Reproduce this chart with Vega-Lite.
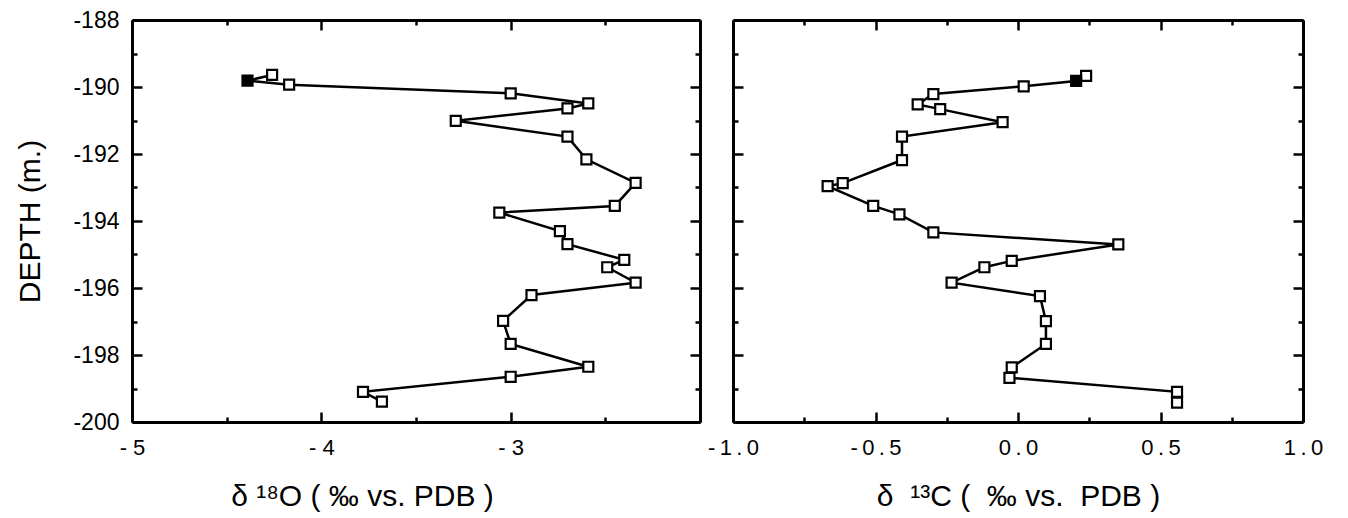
{
  "$schema": "https://vega.github.io/schema/vega-lite/v6.json",
  "background": "white",
  "padding": {"left": 15, "top": 9, "right": 5, "bottom": 5},
  "config": {
    "view": {"stroke": null},
    "font": "Liberation Sans",
    "axis": {
      "grid": false,
      "domainColor": "black",
      "domainWidth": 3,
      "tickColor": "black",
      "tickWidth": 2.5,
      "labelFont": "Liberation Sans",
      "labelFontSize": 22,
      "labelColor": "black",
      "labelFlush": false,
      "labelOverlap": false,
      "titleFont": "Liberation Sans",
      "titleFontWeight": "normal",
      "titleColor": "black"
    }
  },
  "datasets": {
    "oxygen": [
      {"d18O": -4.26, "depth": -189.64, "kind": "open"},
      {"d18O": -4.39, "depth": -189.81, "kind": "filled"},
      {"d18O": -4.17, "depth": -189.93, "kind": "open"},
      {"d18O": -3.00, "depth": -190.19, "kind": "open"},
      {"d18O": -2.59, "depth": -190.49, "kind": "open"},
      {"d18O": -2.70, "depth": -190.64, "kind": "open"},
      {"d18O": -3.29, "depth": -191.01, "kind": "open"},
      {"d18O": -2.70, "depth": -191.48, "kind": "open"},
      {"d18O": -2.60, "depth": -192.16, "kind": "open"},
      {"d18O": -2.34, "depth": -192.86, "kind": "open"},
      {"d18O": -2.45, "depth": -193.55, "kind": "open"},
      {"d18O": -3.06, "depth": -193.75, "kind": "open"},
      {"d18O": -2.74, "depth": -194.30, "kind": "open"},
      {"d18O": -2.70, "depth": -194.69, "kind": "open"},
      {"d18O": -2.40, "depth": -195.16, "kind": "open"},
      {"d18O": -2.49, "depth": -195.38, "kind": "open"},
      {"d18O": -2.34, "depth": -195.84, "kind": "open"},
      {"d18O": -2.89, "depth": -196.21, "kind": "open"},
      {"d18O": -3.04, "depth": -196.98, "kind": "open"},
      {"d18O": -3.00, "depth": -197.67, "kind": "open"},
      {"d18O": -2.59, "depth": -198.35, "kind": "open"},
      {"d18O": -3.00, "depth": -198.65, "kind": "open"},
      {"d18O": -3.78, "depth": -199.10, "kind": "open"},
      {"d18O": -3.68, "depth": -199.39, "kind": "open"}
    ],
    "carbon": [
      {"d13C": 0.239, "depth": -189.67, "kind": "open"},
      {"d13C": 0.204, "depth": -189.82, "kind": "filled"},
      {"d13C": 0.020, "depth": -189.98, "kind": "open"},
      {"d13C": -0.297, "depth": -190.21, "kind": "open"},
      {"d13C": -0.352, "depth": -190.52, "kind": "open"},
      {"d13C": -0.273, "depth": -190.66, "kind": "open"},
      {"d13C": -0.054, "depth": -191.05, "kind": "open"},
      {"d13C": -0.407, "depth": -191.48, "kind": "open"},
      {"d13C": -0.407, "depth": -192.18, "kind": "open"},
      {"d13C": -0.615, "depth": -192.87, "kind": "open"},
      {"d13C": -0.668, "depth": -192.96, "kind": "open"},
      {"d13C": -0.508, "depth": -193.55, "kind": "open"},
      {"d13C": -0.416, "depth": -193.80, "kind": "open"},
      {"d13C": -0.297, "depth": -194.34, "kind": "open"},
      {"d13C": 0.352, "depth": -194.70, "kind": "open"},
      {"d13C": -0.022, "depth": -195.19, "kind": "open"},
      {"d13C": -0.118, "depth": -195.38, "kind": "open"},
      {"d13C": -0.233, "depth": -195.84, "kind": "open"},
      {"d13C": 0.077, "depth": -196.24, "kind": "open"},
      {"d13C": 0.098, "depth": -196.99, "kind": "open"},
      {"d13C": 0.098, "depth": -197.67, "kind": "open"},
      {"d13C": -0.022, "depth": -198.37, "kind": "open"},
      {"d13C": -0.030, "depth": -198.68, "kind": "open"},
      {"d13C": 0.558, "depth": -199.10, "kind": "open"},
      {"d13C": 0.558, "depth": -199.42, "kind": "open"}
    ]
  },
  "spacing": 5,
  "hconcat": [
    {
      "width": 568,
      "height": 402,
      "data": {"name": "oxygen"},
      "layer": [
        {
          "mark": {"type": "line", "color": "black", "strokeWidth": 2.5},
          "encoding": {
            "x": {
              "field": "d18O", "type": "quantitative",
              "scale": {"domain": [-5, -2], "nice": false, "zero": false},
              "axis": {
                "orient": "bottom",
                "values": [-5, -4.5, -4, -3.5, -3, -2.5, -2],
                "tickSize": {"condition": {"test": "datum.value % 1 === 0", "value": -10}, "value": -5},
                "labelExpr": "datum.value % 1 === 0 && datum.value < -2 ? '- ' + abs(datum.value) : ''",
                "labelPadding": 25,
                "title": "δ ¹⁸O ( ‰ vs. PDB )",
                "titleFontSize": 30,
                "titlePadding": 18,
                "titleX": 230,
                "titleAlign": "center"
              }
            },
            "y": {
              "field": "depth", "type": "quantitative",
              "scale": {"domain": [-200, -188], "nice": false, "zero": false},
              "axis": {
                "orient": "left",
                "values": [-200, -199, -198, -197, -196, -195, -194, -193, -192, -191, -190, -189, -188],
                "tickSize": {"condition": {"test": "datum.value % 2 === 0", "value": -10}, "value": -5},
                "labelExpr": "datum.value % 2 === 0 ? '-' + abs(datum.value) : ''",
                "labelPadding": 23,
                "labelFontSize": 23,
                "title": "DEPTH (m.)",
                "titleFontSize": 30,
                "titlePadding": 27
              }
            },
            "order": {"field": "depth", "sort": "descending"}
          }
        },
        {
          "mark": {"type": "point", "shape": "square", "size": 100, "strokeWidth": 2.2, "stroke": "black", "opacity": 1, "filled": true},
          "encoding": {
            "x": {
              "field": "d18O", "type": "quantitative",
              "axis": {
                "orient": "top",
                "values": [-5, -4.5, -4, -3.5, -3, -2.5, -2],
                "tickSize": {"condition": {"test": "datum.value % 1 === 0", "value": -10}, "value": -5},
                "labels": false,
                "title": null
              }
            },
            "y": {
              "field": "depth", "type": "quantitative",
              "axis": {
                "orient": "right",
                "values": [-200, -199, -198, -197, -196, -195, -194, -193, -192, -191, -190, -189, -188],
                "tickSize": {"condition": {"test": "datum.value % 2 === 0", "value": -10}, "value": -5},
                "labels": false,
                "title": null
              }
            },
            "fill": {"field": "kind", "type": "nominal", "scale": {"domain": ["open", "filled"], "range": ["white", "black"]}, "legend": null}
          }
        }
      ],
      "resolve": {"axis": {"x": "independent", "y": "independent"}}
    },
    {
      "width": 570,
      "height": 402,
      "data": {"name": "carbon"},
      "layer": [
        {
          "mark": {"type": "line", "color": "black", "strokeWidth": 2.5},
          "encoding": {
            "x": {
              "field": "d13C", "type": "quantitative",
              "scale": {"domain": [-1, 1], "nice": false, "zero": false},
              "axis": {
                "orient": "bottom",
                "values": [-1, -0.75, -0.5, -0.25, 0, 0.25, 0.5, 0.75, 1],
                "tickSize": {"condition": {"test": "(datum.value * 2) % 1 === 0", "value": -10}, "value": -5},
                "labelExpr": "(datum.value * 2) % 1 === 0 ? join(split((datum.value < 0 ? '-' : '') + format(abs(datum.value), '.1f'), ''), '\u2009') : ''",
                "labelPadding": 25,
                "title": "δ\u00a0\u00a0¹³C (\u00a0\u00a0‰ vs.\u00a0\u00a0PDB )",
                "titleFontSize": 30,
                "titlePadding": 18
              }
            },
            "y": {
              "field": "depth", "type": "quantitative",
              "scale": {"domain": [-200, -188], "nice": false, "zero": false},
              "axis": {
                "orient": "left",
                "values": [-200, -199, -198, -197, -196, -195, -194, -193, -192, -191, -190, -189, -188],
                "tickSize": {"condition": {"test": "datum.value % 2 === 0", "value": -10}, "value": -5},
                "labels": false,
                "title": null
              }
            },
            "order": {"field": "depth", "sort": "descending"}
          }
        },
        {
          "mark": {"type": "point", "shape": "square", "size": 100, "strokeWidth": 2.2, "stroke": "black", "opacity": 1, "filled": true},
          "encoding": {
            "x": {
              "field": "d13C", "type": "quantitative",
              "axis": {
                "orient": "top",
                "values": [-1, -0.75, -0.5, -0.25, 0, 0.25, 0.5, 0.75, 1],
                "tickSize": {"condition": {"test": "(datum.value * 2) % 1 === 0", "value": -10}, "value": -5},
                "labels": false,
                "title": null
              }
            },
            "y": {
              "field": "depth", "type": "quantitative",
              "axis": {
                "orient": "right",
                "values": [-200, -199, -198, -197, -196, -195, -194, -193, -192, -191, -190, -189, -188],
                "tickSize": {"condition": {"test": "datum.value % 2 === 0", "value": -10}, "value": -5},
                "labels": false,
                "title": null
              }
            },
            "fill": {"field": "kind", "type": "nominal", "scale": {"domain": ["open", "filled"], "range": ["white", "black"]}, "legend": null}
          }
        }
      ],
      "resolve": {"axis": {"x": "independent", "y": "independent"}}
    }
  ]
}
